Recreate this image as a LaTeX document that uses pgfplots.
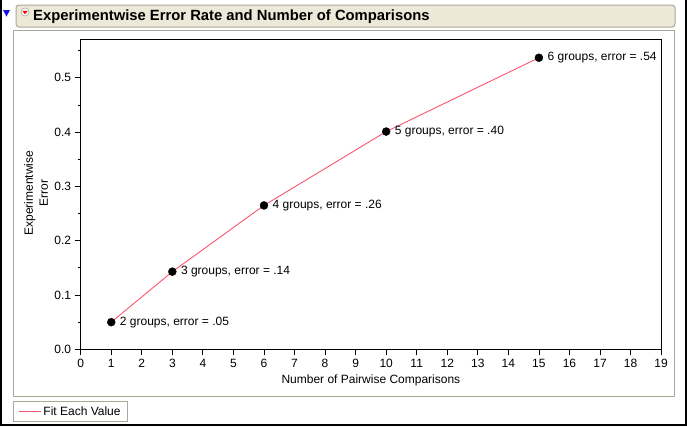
\documentclass[border=0pt]{standalone}
\usepackage{pgfplots}
\pgfplotsset{compat=1.18}
\usepackage{pgfplotstable}
\usepackage{fontspec}
\setmainfont{Liberation Sans}
\definecolor{fitred}{RGB}{250,85,110}
\definecolor{framegray}{RGB}{172,168,153}
\definecolor{barbeige}{RGB}{236,233,216}
\definecolor{jmpblue}{RGB}{20,20,230}
\pgfplotstableread[col sep=semicolon]{
x;y;label
1;0.050;2 groups, error = .05
3;0.143;3 groups, error = .14
6;0.265;4 groups, error = .26
10;0.401;5 groups, error = .40
15;0.537;6 groups, error = .54
}\errtable
\begin{document}
\begin{tikzpicture}[font=\fontsize{12}{15}\selectfont]
\useasboundingbox (0,0) rectangle (687pt,-426pt);
% outer border
\draw[black, line width=2pt] (1pt,0pt) -- (1pt,-425pt) -- (686pt,-425pt) -- (686pt,0pt);
% blue disclosure triangle
\fill[jmpblue] (3pt,-10pt) -- (10pt,-10pt) -- (6.5pt,-16.5pt) -- cycle;
% header bar
\draw[framegray, fill=barbeige, line width=1pt, rounded corners=3pt] (16pt,-5pt) rectangle (675pt,-27pt);
\draw[framegray, fill=white, line width=0.6pt] (25pt,-12pt) circle (4pt);
\fill[red] (22.3pt,-10.8pt) -- (27.7pt,-10.8pt) -- (25pt,-14.3pt) -- cycle;
\node[anchor=west, font=\fontsize{14.8}{17}\selectfont\bfseries, inner sep=0pt] at (33pt,-16.5pt) {Experimentwise Error Rate and Number of Comparisons};
% content frame
\draw[framegray, line width=1pt] (13pt,-30pt) rectangle (674pt,-396pt);
\begin{axis}[
  at={(80.7pt,-349.3pt)}, anchor=south west,
  scale only axis, width=580.4pt, height=309.5pt,
  xmin=0, xmax=19, ymin=0, ymax=0.57,
  xtick={0,1,...,19},
  ytick={0,0.1,0.2,0.3,0.4,0.5},
  minor ytick={0.05,0.15,0.25,0.35,0.45,0.55},
  tick pos=left, tick align=outside,
  major tick length=6pt, minor tick length=3pt,
  tick style={black, line width=0.8pt},
  axis line style={black, line width=0.8pt},
  /pgf/number format/assume math mode=true,
  ticklabel style={font=\fontsize{12}{14}\selectfont},
  yticklabel style={/pgf/number format/fixed, /pgf/number format/fixed zerofill, /pgf/number format/precision=1},
  xlabel={Number of Pairwise Comparisons},
  xlabel style={at={(axis description cs:0.5,-0.102)}, anchor=center},
  ylabel={Experimentwise\\Error},
  ylabel style={align=center, at={(axis description cs:-0.077,0.505)}, anchor=center},
  legend style={at={(axis description cs:-0.1166,-0.2349)}, anchor=south west, draw=framegray, line width=1pt, inner xsep=5pt, inner ysep=3pt, font=\fontsize{12}{14}\selectfont},
  legend cell align=left,
  legend image code/.code={\draw[#1] (0pt,0pt) -- (22pt,0pt);},
]
\addplot[fitred, line width=0.9pt, no marks] table[x=x, y=y] {\errtable};
\addlegendentry{Fit Each Value}
\addplot[only marks, mark=*, mark size=4pt, black, mark options={fill=black},
  nodes near coords, point meta=explicit symbolic,
  every node near coord/.style={anchor=west, xshift=8.5pt, inner sep=0pt, black, font=\fontsize{12}{14}\selectfont}]
  table[x=x, y=y, meta=label] {\errtable};
\end{axis}
\end{tikzpicture}
\end{document}
